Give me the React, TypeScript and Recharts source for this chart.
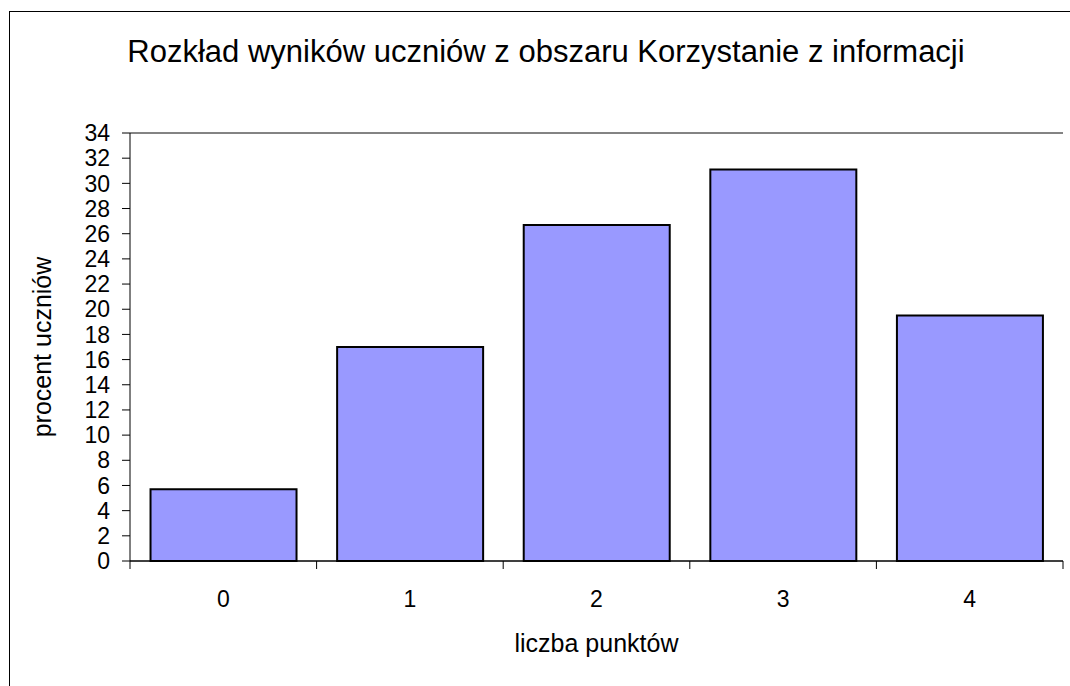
import React from 'react';
import { BarChart, Bar, XAxis, YAxis, CartesianGrid, ReferenceLine, Label } from 'recharts';

const categories = ['0', '1', '2', '3', '4'];
const percentValues = [5.7, 17.0, 26.7, 31.1, 19.5];
const yTicks = [0, 2, 4, 6, 8, 10, 12, 14, 16, 18, 20, 22, 24, 26, 28, 30, 32, 34];

const TITLE = 'Rozkład wyników uczniów z obszaru Korzystanie z informacji';
const X_LABEL = 'liczba punktów';
const Y_LABEL = 'procent uczniów';

const FONT = '"Liberation Sans", Arial, sans-serif';

const data = categories.map((name, i) => ({ name, value: percentValues[i] }));

// ticks sit between the categories, labels in the middle
function CategoryTick(props: any) {
  const { x, y, payload, index, visibleTicksCount, width } = props;
  const half = payload.offset ?? width / visibleTicksCount / 2;
  const isLast = index === visibleTicksCount - 1;
  return (
    <g>
      <line x1={x - half} y1={y} x2={x - half} y2={y + 8} stroke="#000" />
      {isLast && <line x1={x + half} y1={y} x2={x + half} y2={y + 8} stroke="#000" />}
      <text x={x} y={y + 46} textAnchor="middle" fontSize={23} fill="#000" fontFamily={FONT}>
        {payload.value}
      </text>
    </g>
  );
}

function YAxisTitle(props: any) {
  const { viewBox } = props;
  const cx = viewBox.x + 42;
  const cy = viewBox.y + viewBox.height / 2;
  return (
    <text
      x={cx}
      y={cy}
      transform={`rotate(-90, ${cx}, ${cy})`}
      textAnchor="middle"
      dominantBaseline="central"
      fontSize={25}
      fill="#000"
      fontFamily={FONT}
    >
      {Y_LABEL}
    </text>
  );
}

export default function App() {
  return (
    <div style={{ position: 'absolute', left: 0, top: 0, width: 1070, height: 686, overflow: 'hidden', background: '#fff', fontFamily: FONT }}>
      <div style={{ position: 'absolute', left: 9, top: 11, width: 1100, height: 720, border: '1px solid #000' }} />
      <div style={{ position: 'absolute', left: 0, width: 1092, top: 34, textAlign: 'center', fontSize: 31, lineHeight: '36px', color: '#000', whiteSpace: 'nowrap' }}>
        {TITLE}
      </div>
      <div style={{ position: 'absolute', left: 0, top: 0 }}>
        <BarChart
          width={1070}
          height={686}
          data={data}
          margin={{ top: 133, right: 7, bottom: 34, left: 0 }}
          barCategoryGap="11%"
        >
          <CartesianGrid vertical={false} stroke="#000" strokeWidth={1} />
          <XAxis
            dataKey="name"
            height={91}
            axisLine={{ stroke: '#000' }}
            tickLine={false}
            tickSize={0}
            tickMargin={0}
            interval={0}
            tick={<CategoryTick />}
          >
            <Label value={X_LABEL} position="insideBottom" offset={0} fontSize={25} fill="#000" fontFamily={FONT} />
          </XAxis>
          <YAxis
            yAxisId="left"
            width={130}
            domain={[0, 34]}
            ticks={yTicks}
            interval={0}
            axisLine={{ stroke: '#000' }}
            tickLine={{ stroke: '#000' }}
            tickSize={8}
            tickMargin={12}
            tick={{ fontSize: 23, fill: '#000', fontFamily: FONT }}
          >
            <Label content={<YAxisTitle />} />
          </YAxis>
          <YAxis
            yAxisId="right"
            orientation="right"
            width={0}
            domain={[0, 34]}
            tick={false}
            tickLine={false}
            axisLine={{ stroke: '#888' }}
          />
          <ReferenceLine yAxisId="left" y={34} stroke="#888" />
          <Bar
            yAxisId="left"
            dataKey="value"
            fill="#9999FF"
            stroke="#000"
            strokeWidth={2}
            isAnimationActive={false}
          />
        </BarChart>
      </div>
    </div>
  );
}
